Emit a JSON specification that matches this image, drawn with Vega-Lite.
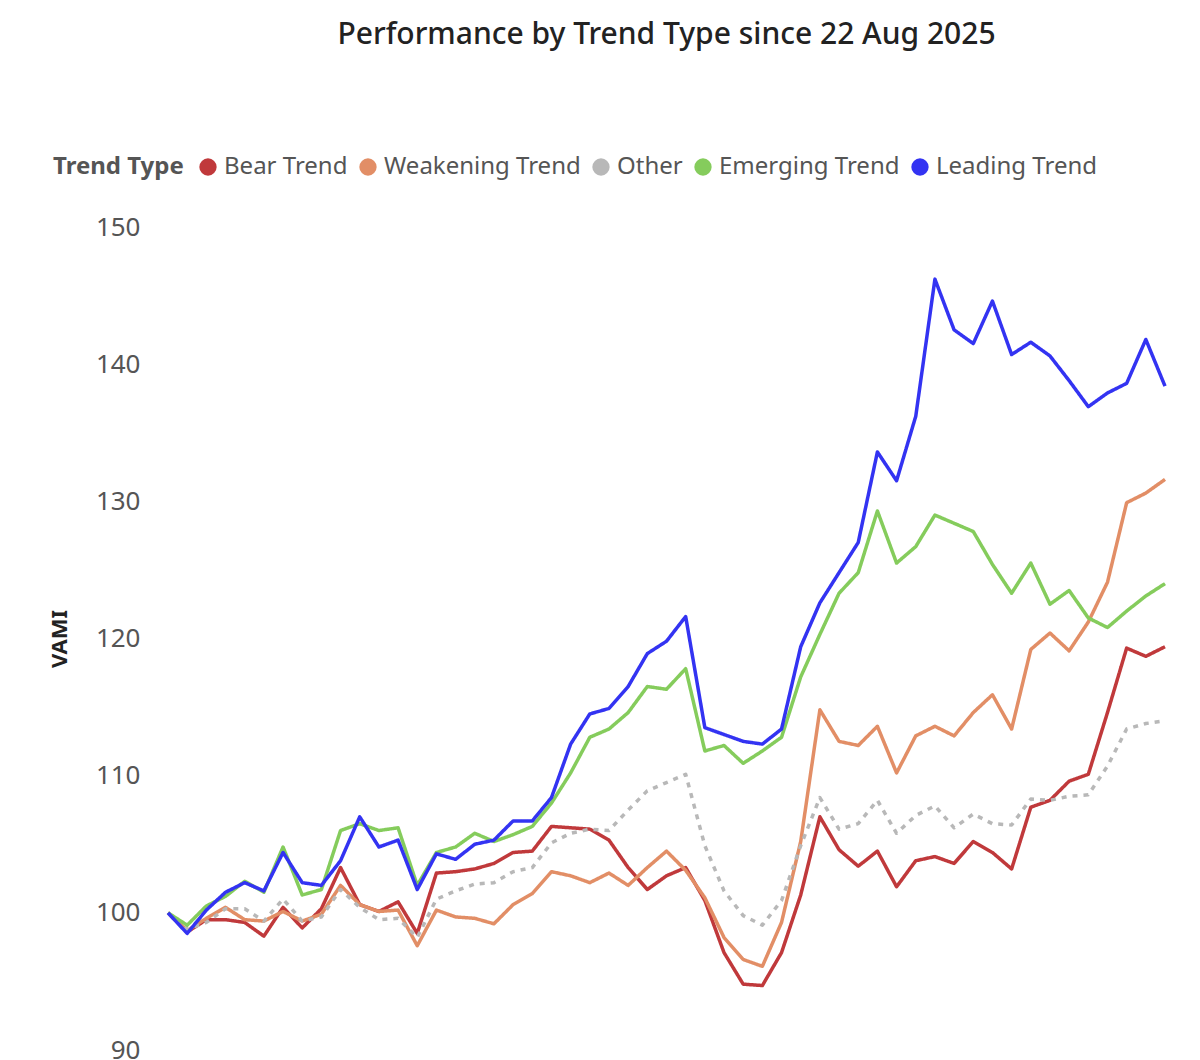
{
"$schema":"https://vega.github.io/schema/vega-lite/v6.json",
"width":997,"height":823,
"padding":{"left":48,"top":20,"right":50,"bottom":10},
"config":{"font":"Noto Sans","view":{"stroke":null}},
"title":{"text":"Performance by Trend Type since 22 Aug 2025","fontSize":30,"fontWeight":500,"color":"#222","offset":105},
"data":{"values":[
{"d":"2025-08-22","Bear Trend":100,"Weakening Trend":100,"Other":100,"Emerging Trend":100,"Leading Trend":100},
{"d":"2025-08-29","Bear Trend":98.6,"Weakening Trend":98.7,"Other":98.8,"Emerging Trend":99.1,"Leading Trend":98.5},
{"d":"2025-09-05","Bear Trend":99.5,"Weakening Trend":99.6,"Other":99.3,"Emerging Trend":100.5,"Leading Trend":100.2},
{"d":"2025-09-12","Bear Trend":99.5,"Weakening Trend":100.4,"Other":100.3,"Emerging Trend":101.2,"Leading Trend":101.5},
{"d":"2025-09-19","Bear Trend":99.3,"Weakening Trend":99.5,"Other":100.3,"Emerging Trend":102.3,"Leading Trend":102.2},
{"d":"2025-09-26","Bear Trend":98.3,"Weakening Trend":99.4,"Other":99.4,"Emerging Trend":101.5,"Leading Trend":101.6},
{"d":"2025-10-03","Bear Trend":100.4,"Weakening Trend":100.1,"Other":101,"Emerging Trend":104.8,"Leading Trend":104.4},
{"d":"2025-10-10","Bear Trend":98.9,"Weakening Trend":99.4,"Other":99.4,"Emerging Trend":101.3,"Leading Trend":102.2},
{"d":"2025-10-17","Bear Trend":100.3,"Weakening Trend":99.9,"Other":99.7,"Emerging Trend":101.7,"Leading Trend":102},
{"d":"2025-10-24","Bear Trend":103.3,"Weakening Trend":102,"Other":101.7,"Emerging Trend":106,"Leading Trend":103.8},
{"d":"2025-10-31","Bear Trend":100.6,"Weakening Trend":100.6,"Other":100.4,"Emerging Trend":106.5,"Leading Trend":107},
{"d":"2025-11-07","Bear Trend":100.1,"Weakening Trend":100.1,"Other":99.5,"Emerging Trend":106,"Leading Trend":104.8},
{"d":"2025-11-14","Bear Trend":100.8,"Weakening Trend":100.2,"Other":99.6,"Emerging Trend":106.2,"Leading Trend":105.3},
{"d":"2025-11-21","Bear Trend":98.5,"Weakening Trend":97.6,"Other":98.2,"Emerging Trend":102,"Leading Trend":101.7},
{"d":"2025-11-28","Bear Trend":102.9,"Weakening Trend":100.2,"Other":101,"Emerging Trend":104.4,"Leading Trend":104.3},
{"d":"2025-12-05","Bear Trend":103,"Weakening Trend":99.7,"Other":101.6,"Emerging Trend":104.8,"Leading Trend":103.9},
{"d":"2025-12-12","Bear Trend":103.2,"Weakening Trend":99.6,"Other":102.1,"Emerging Trend":105.8,"Leading Trend":105},
{"d":"2025-12-19","Bear Trend":103.6,"Weakening Trend":99.2,"Other":102.2,"Emerging Trend":105.2,"Leading Trend":105.3},
{"d":"2025-12-26","Bear Trend":104.4,"Weakening Trend":100.6,"Other":103,"Emerging Trend":105.7,"Leading Trend":106.7},
{"d":"2026-01-02","Bear Trend":104.5,"Weakening Trend":101.4,"Other":103.3,"Emerging Trend":106.3,"Leading Trend":106.7},
{"d":"2026-01-09","Bear Trend":106.3,"Weakening Trend":103,"Other":105.1,"Emerging Trend":108,"Leading Trend":108.4},
{"d":"2026-01-16","Bear Trend":106.2,"Weakening Trend":102.7,"Other":105.8,"Emerging Trend":110.2,"Leading Trend":112.3},
{"d":"2026-01-23","Bear Trend":106.1,"Weakening Trend":102.2,"Other":106.1,"Emerging Trend":112.8,"Leading Trend":114.5},
{"d":"2026-01-30","Bear Trend":105.3,"Weakening Trend":102.9,"Other":106,"Emerging Trend":113.4,"Leading Trend":114.9},
{"d":"2026-02-06","Bear Trend":103.3,"Weakening Trend":102,"Other":107.5,"Emerging Trend":114.6,"Leading Trend":116.5},
{"d":"2026-02-13","Bear Trend":101.7,"Weakening Trend":103.3,"Other":108.9,"Emerging Trend":116.5,"Leading Trend":118.9},
{"d":"2026-02-20","Bear Trend":102.7,"Weakening Trend":104.5,"Other":109.5,"Emerging Trend":116.3,"Leading Trend":119.8},
{"d":"2026-02-27","Bear Trend":103.3,"Weakening Trend":103.1,"Other":110.1,"Emerging Trend":117.8,"Leading Trend":121.6},
{"d":"2026-03-06","Bear Trend":100.9,"Weakening Trend":101.1,"Other":104.9,"Emerging Trend":111.8,"Leading Trend":113.5},
{"d":"2026-03-13","Bear Trend":97.1,"Weakening Trend":98.2,"Other":101.6,"Emerging Trend":112.2,"Leading Trend":113},
{"d":"2026-03-20","Bear Trend":94.8,"Weakening Trend":96.6,"Other":99.8,"Emerging Trend":110.9,"Leading Trend":112.5},
{"d":"2026-03-27","Bear Trend":94.7,"Weakening Trend":96.1,"Other":99.1,"Emerging Trend":111.8,"Leading Trend":112.3},
{"d":"2026-04-03","Bear Trend":97.1,"Weakening Trend":99.3,"Other":100.9,"Emerging Trend":112.8,"Leading Trend":113.4},
{"d":"2026-04-10","Bear Trend":101.3,"Weakening Trend":105.2,"Other":104.9,"Emerging Trend":117.2,"Leading Trend":119.4},
{"d":"2026-04-17","Bear Trend":107,"Weakening Trend":114.8,"Other":108.4,"Emerging Trend":120.3,"Leading Trend":122.6},
{"d":"2026-04-24","Bear Trend":104.6,"Weakening Trend":112.5,"Other":106.1,"Emerging Trend":123.3,"Leading Trend":124.8},
{"d":"2026-05-01","Bear Trend":103.4,"Weakening Trend":112.2,"Other":106.5,"Emerging Trend":124.8,"Leading Trend":127},
{"d":"2026-05-08","Bear Trend":104.5,"Weakening Trend":113.6,"Other":108.2,"Emerging Trend":129.3,"Leading Trend":133.6},
{"d":"2026-05-15","Bear Trend":101.9,"Weakening Trend":110.2,"Other":105.8,"Emerging Trend":125.5,"Leading Trend":131.5},
{"d":"2026-05-22","Bear Trend":103.8,"Weakening Trend":112.9,"Other":107.1,"Emerging Trend":126.7,"Leading Trend":136.2},
{"d":"2026-05-29","Bear Trend":104.1,"Weakening Trend":113.6,"Other":107.8,"Emerging Trend":129,"Leading Trend":146.2},
{"d":"2026-06-05","Bear Trend":103.6,"Weakening Trend":112.9,"Other":106.2,"Emerging Trend":128.4,"Leading Trend":142.5},
{"d":"2026-06-12","Bear Trend":105.2,"Weakening Trend":114.6,"Other":107.2,"Emerging Trend":127.8,"Leading Trend":141.5},
{"d":"2026-06-19","Bear Trend":104.4,"Weakening Trend":115.9,"Other":106.5,"Emerging Trend":125.4,"Leading Trend":144.6},
{"d":"2026-06-26","Bear Trend":103.2,"Weakening Trend":113.4,"Other":106.4,"Emerging Trend":123.3,"Leading Trend":140.7},
{"d":"2026-07-03","Bear Trend":107.7,"Weakening Trend":119.2,"Other":108.3,"Emerging Trend":125.5,"Leading Trend":141.6},
{"d":"2026-07-10","Bear Trend":108.2,"Weakening Trend":120.4,"Other":108.2,"Emerging Trend":122.5,"Leading Trend":140.6},
{"d":"2026-07-17","Bear Trend":109.6,"Weakening Trend":119.1,"Other":108.5,"Emerging Trend":123.5,"Leading Trend":138.8},
{"d":"2026-07-24","Bear Trend":110.1,"Weakening Trend":121.2,"Other":108.6,"Emerging Trend":121.5,"Leading Trend":136.9},
{"d":"2026-07-31","Bear Trend":114.6,"Weakening Trend":124.1,"Other":110.7,"Emerging Trend":120.8,"Leading Trend":137.9},
{"d":"2026-08-07","Bear Trend":119.3,"Weakening Trend":129.9,"Other":113.4,"Emerging Trend":122,"Leading Trend":138.6},
{"d":"2026-08-14","Bear Trend":118.7,"Weakening Trend":130.6,"Other":113.8,"Emerging Trend":123.1,"Leading Trend":141.8},
{"d":"2026-08-21","Bear Trend":119.4,"Weakening Trend":131.6,"Other":114,"Emerging Trend":124,"Leading Trend":138.4}
]},
"transform":[{"fold":["Bear Trend","Weakening Trend","Other","Emerging Trend","Leading Trend"],"as":["Trend Type","v"]}],
"mark":{"type":"line","strokeWidth":3.5,"strokeJoin":"round"},
"encoding":{
"x":{"field":"d","type":"temporal","title":null,
"axis":{"values":[{"year":2025,"month":9,"date":1},{"year":2025,"month":11,"date":1},{"year":2026,"month":1,"date":1},{"year":2026,"month":3,"date":1},{"year":2026,"month":5,"date":1},{"year":2026,"month":7,"date":1}],"format":"%b %Y","grid":false,"domain":false,"ticks":false,"labelFontSize":26,"labelColor":"#555","labelPadding":16}},
"y":{"field":"v","type":"quantitative","title":"VAMI","scale":{"domain":[90,150],"nice":false,"zero":false},
"axis":{"values":[90,100,110,120,130,140,150],"grid":false,"domain":false,"ticks":false,"labelFontSize":26,"labelColor":"#555","labelPadding":28,"titleFontSize":22,"titleColor":"#222","titleFontWeight":"bold","titlePadding":24}},
"color":{"field":"Trend Type","type":"nominal",
"scale":{"domain":["Bear Trend","Weakening Trend","Other","Emerging Trend","Leading Trend"],"range":["#C0393B","#E28E66","#B8B8B8","#85CC5C","#3333F2"]},
"legend":{"orient":"none","legendX":-115,"legendY":-72,"direction":"horizontal","symbolType":"circle","symbolSize":300,"symbolStrokeWidth":0,"labelLimit":0,"labelFontSize":24,"labelColor":"#555","titleFontSize":24,"titleColor":"#555","titleOrient":"left","titlePadding":12,"columnPadding":8,"labelOffset":4,
"encode":{"symbols":{"update":{"fill":{"scale":"color","field":"value"},"fillOpacity":{"value":1},"strokeDash":{"value":[1,0]}}}}}},
"strokeDash":{"field":"Trend Type","type":"nominal","legend":null,
"scale":{"domain":["Bear Trend","Weakening Trend","Other","Emerging Trend","Leading Trend"],"range":[[1,0],[1,0],[5,6],[1,0],[1,0]]}}
}
}
